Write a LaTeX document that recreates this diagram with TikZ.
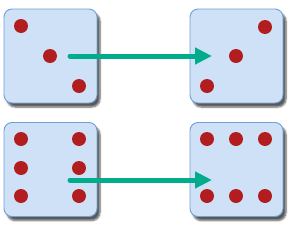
\documentclass[tikz,border=0pt]{standalone}
\usepackage{tikz}
\usepackage{xcolor}
\usetikzlibrary{positioning,arrows.meta,shadows.blur}
\definecolor{diefill}{RGB}{206,225,246}
\definecolor{dieline}{RGB}{110,160,218}
\definecolor{pipred}{RGB}{178,30,32}
\definecolor{arrowteal}{RGB}{0,172,140}
\tikzset{
  die/.style={draw=dieline, line width=0.9pt, fill=diefill, rounded corners=8pt,
    minimum width=93pt, minimum height=94pt, inner sep=0pt,
    blur shadow={shadow xshift=3pt, shadow yshift=-4pt, shadow blur steps=6, shadow opacity=65}},
  pip/.style={circle, fill=pipred, minimum size=14pt, inner sep=0pt},
  move/.style={draw=arrowteal, line width=5pt, line cap=round,
    -{Triangle[length=17pt, width=16pt]}}
}

\begin{document}
\begin{tikzpicture}[x=1pt, y=-1pt]
                \useasboundingbox (0,0) rectangle (300,228);

                % top row: three
                \node[die] (threeA) at (50.5,56) {};
                \node[pip] (a1) at (21,26) {};
                \node[pip] (a2) at (50,56) {};
                \node[pip] (a3) at (79,86) {};

                \node[die] (threeB) at (236.5,56) {};
                \node[pip] (b1) at (265,27) {};
                \node[pip] (b2) at (236,56) {};
                \node[pip] (b3) at (207,86) {};

                % bottom row: six
                \node[die] (sixA) at (50.5,169.5) {};
                \foreach \y in {139,168,196} {
                    \node[pip] at (21,\y) {};
                    \node[pip] at (79,\y) {};
                }

                \node[die] (sixB) at (236.5,169.5) {};
                \foreach \x in {207,236,265} {
                    \node[pip] at (\x,139) {};
                    \node[pip] at (\x,196) {};
                }

                % arrows
                \coordinate (topStart) at (70,56);
                \coordinate (topEnd) at (212,56);
                \coordinate (botStart) at (70,180);
                \coordinate (botEnd) at (212,180);
                \draw[move] (topStart) -- (topEnd);
                \draw[move] (botStart) -- (botEnd);
            \end{tikzpicture}
\end{document}
